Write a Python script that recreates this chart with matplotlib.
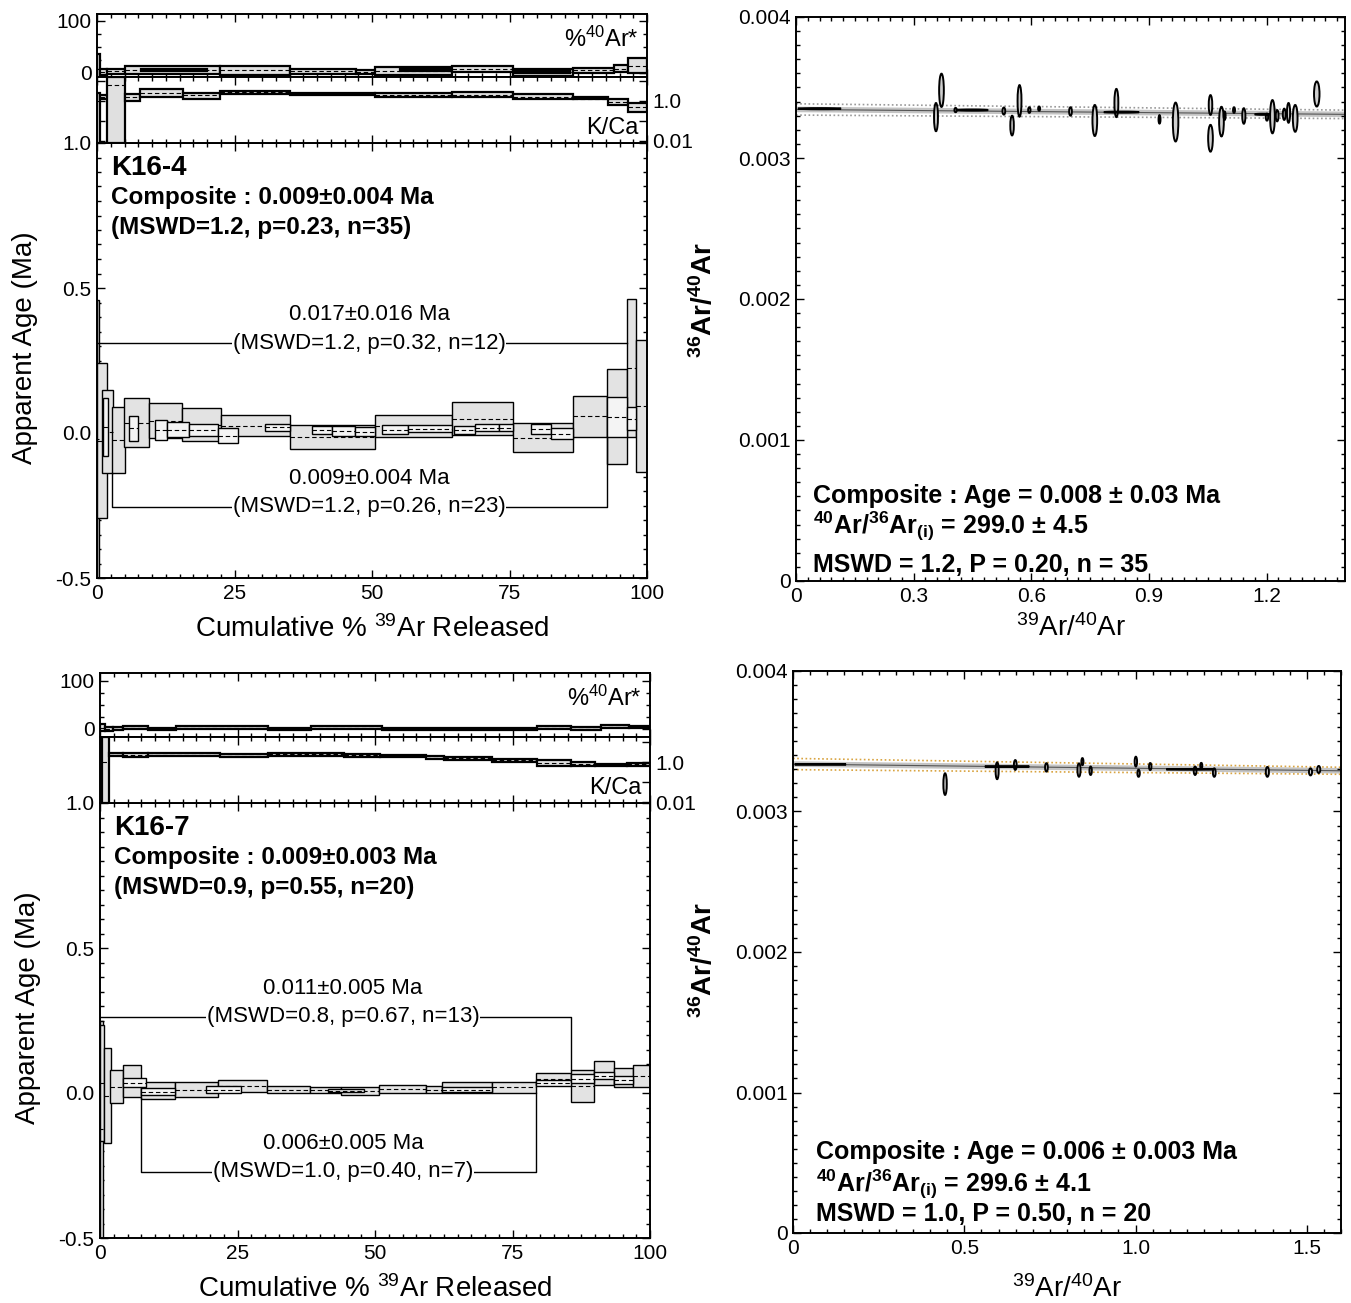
"""
Composite 40Ar/39Ar age spectra and inverse isochrons for K16-4 and K16-7
"""

import numpy as np
import matplotlib
matplotlib.use("Agg")
import matplotlib.pyplot as plt
from matplotlib.patches import Rectangle, Ellipse
from matplotlib.ticker import FixedLocator, FixedFormatter, MultipleLocator, NullFormatter, NullLocator

plt.rcParams["font.family"] = ["Liberation Sans", "DejaVu Sans"]
plt.rcParams["mathtext.default"] = "regular"

W, H = 1351, 1303

# ---------------- K16-4 ----------------
# age steps: (cum % start, cum % end, age Ma, error Ma)
K16_4_STEPS_A = [
    (0.0, 0.4, -0.02, 0.48), (0.0, 1.9, -0.027, 0.267), (0.9, 2.9, 0.005, 0.143),
    (2.7, 5.1, -0.024, 0.115), (4.9, 9.4, 0.036, 0.083), (9.4, 15.5, 0.042, 0.060),
    (15.5, 22.6, 0.028, 0.057), (22.6, 35.1, 0.025, 0.037), (35.1, 50.6, -0.014, 0.042),
    (50.6, 64.5, 0.024, 0.037), (64.5, 75.7, 0.050, 0.058), (75.7, 86.5, -0.016, 0.051),
    (86.5, 92.8, 0.057, 0.070), (92.8, 96.4, 0.056, 0.163), (96.4, 98.0, 0.224, 0.237),
    (98.0, 100.0, 0.094, 0.227),
]
K16_4_STEPS_B = [
    (1.0, 2.0, 0.02, 0.10), (5.8, 7.5, 0.016, 0.043), (10.5, 12.8, 0.010, 0.035),
    (12.8, 16.7, 0.012, 0.026), (16.7, 22.0, 0.010, 0.020), (22.0, 25.6, -0.010, 0.026),
    (30.5, 35.1, 0.020, 0.012), (39.0, 42.7, 0.010, 0.015), (42.7, 46.9, 0.008, 0.017),
    (46.9, 50.6, 0.005, 0.014), (51.8, 56.5, 0.012, 0.017), (56.5, 64.5, 0.015, 0.012),
    (64.9, 68.8, 0.010, 0.014), (68.8, 73.0, 0.018, 0.012), (73.0, 75.7, 0.018, 0.012),
    (78.9, 82.5, 0.013, 0.018), (82.5, 86.5, -0.002, 0.019), (92.8, 96.4, 0.056, 0.069),
    (96.4, 98.0, 0.05, 0.04),
]
# %40Ar*: (start, end, value, error)
K16_4_AR = [
    (0.0, 0.5, 8, 28), (0.5, 1.9, 2, 5), (1.9, 5.0, 3, 5), (5.0, 22.4, 6, 8),
    (8.0, 20.0, 6, 2), (22.4, 35.1, 5, 8), (35.1, 47.1, 3, 5), (47.1, 50.5, 2, 4),
    (50.5, 64.6, 4, 7), (55.0, 64.6, 6, 2), (64.6, 75.7, 8, 6), (75.7, 86.6, 1, 6),
    (76.0, 86.0, 2, 2), (86.6, 94.0, 5, 5), (94.0, 96.5, 8, 7), (96.5, 100.0, 14, 14),
]
# K/Ca: (start, end, value, low, high)
K16_4_KCA = [
    (0.0, 0.5, 1.0, 0.008, 2.5), (0.5, 1.9, 1.6, 1.3, 2.0), (1.9, 5.0, 6.3, 0.008, 16),
    (5.0, 7.9, 1.5, 1.05, 2.2), (7.9, 15.7, 2.5, 1.6, 3.85), (15.7, 22.4, 2.0, 1.26, 2.65),
    (22.4, 35.1, 2.7, 2.2, 3.2), (35.1, 50.5, 2.3, 2.1, 2.6), (50.5, 64.6, 2.0, 1.6, 2.6),
    (64.6, 75.7, 2.0, 1.5, 2.7), (75.7, 86.6, 1.6, 1.26, 2.2), (86.6, 92.9, 1.3, 1.2, 1.5),
    (92.9, 96.5, 0.9, 0.6, 1.26), (96.5, 100.0, 0.5, 0.28, 0.77),
]
# plateau brackets: (start, end, level, left end, right end, age text, stats text)
K16_4_BRACKETS = [
    (0.0, 96.4, 0.31, 0.31, 0.31, "0.017\u00b10.016 Ma", "(MSWD=1.2, p=0.32, n=12)"),
    (2.7, 92.8, -0.255, -0.139, -0.013, "0.009\u00b10.004 Ma", "(MSWD=1.2, p=0.26, n=23)"),
]
K16_4_LABEL = ["K16-4", "Composite : 0.009\u00b10.004 Ma", "(MSWD=1.2, p=0.23, n=35)"]

# isochron ellipses: (39Ar/40Ar, 36Ar/40Ar, width, height)
K16_4_ISO = [
    (0.371, 0.00348, 0.012, 0.000236), (0.357, 0.00329, 0.010, 0.000200),
    (0.407, 0.00334, 0.006, 0.000030), (0.530, 0.003333, 0.007, 0.000050),
    (0.551, 0.00323, 0.009, 0.000140), (0.570, 0.003405, 0.010, 0.000224),
    (0.595, 0.00334, 0.006, 0.000040), (0.620, 0.00335, 0.005, 0.000030),
    (0.700, 0.00333, 0.007, 0.000060), (0.762, 0.003266, 0.012, 0.000220),
    (0.817, 0.00339, 0.010, 0.000200), (0.927, 0.003274, 0.005, 0.000060),
    (0.968, 0.003255, 0.014, 0.000276), (1.057, 0.003376, 0.009, 0.000140),
    (1.057, 0.00314, 0.012, 0.000190), (1.085, 0.003258, 0.012, 0.000210),
    (1.093, 0.00330, 0.005, 0.000060), (1.117, 0.00334, 0.005, 0.000040),
    (1.142, 0.003298, 0.008, 0.000110), (1.201, 0.00329, 0.006, 0.000050),
    (1.215, 0.003293, 0.012, 0.000236), (1.227, 0.00330, 0.007, 0.000080),
    (1.245, 0.00331, 0.007, 0.000080), (1.256, 0.00332, 0.008, 0.000140),
    (1.273, 0.003281, 0.012, 0.000190), (1.328, 0.003454, 0.014, 0.000178),
    (0.060, 0.00335, 0.110, 0.000008), (0.450, 0.00334, 0.080, 0.000008),
    (0.830, 0.003325, 0.090, 0.000008), (1.190, 0.00331, 0.040, 0.000008),
]
K16_4_INITIAL = 299.0
K16_4_SLOPE = -2.5e-5
K16_4_ENVELOPE = (4.0e-5, 3.0e-5)
K16_4_ISO_TEXT = ["Composite : Age = 0.008 \u00b1 0.03 Ma",
                  "$^{40}$Ar/$^{36}$Ar$_{(i)}$ = 299.0 \u00b1 4.5",
                  "MSWD = 1.2, P = 0.20, n = 35"]

# ---------------- K16-7 ----------------
K16_7_STEPS_A = [
    (0.0, 0.5, -0.125, 0.375), (0.0, 0.7, 0.033, 0.20), (0.7, 2.0, -0.01, 0.164),
    (1.8, 4.2, 0.022, 0.058), (4.2, 7.5, 0.042, 0.055), (7.5, 13.6, 0.010, 0.029),
    (13.6, 21.4, 0.012, 0.027), (21.4, 30.3, 0.024, 0.020), (30.3, 38.1, 0.012, 0.012),
    (38.1, 43.9, 0.010, 0.010), (43.9, 50.7, 0.008, 0.014), (50.7, 59.2, 0.013, 0.014),
    (59.2, 62.1, 0.012, 0.013), (62.1, 71.2, 0.018, 0.019), (71.2, 79.3, 0.019, 0.020),
    (79.3, 85.7, 0.049, 0.021), (85.7, 89.8, 0.025, 0.055), (89.8, 93.5, 0.069, 0.041),
    (93.5, 96.9, 0.052, 0.033), (96.9, 100.0, 0.058, 0.038),
]
K16_7_STEPS_B = [
    (4.2, 8.3, 0.035, 0.016), (7.5, 13.6, 0.005, 0.012), (19.3, 25.6, 0.012, 0.012),
    (41.5, 48.0, 0.008, 0.006), (62.1, 71.2, 0.012, 0.010), (79.3, 85.7, 0.035, 0.010),
    (85.7, 89.8, 0.050, 0.015), (89.8, 93.5, 0.060, 0.012), (93.5, 96.9, 0.045, 0.015),
]
K16_7_AR = [
    (0.0, 0.9, 3, 8), (0.9, 2.3, 0, 4), (2.3, 4.1, 1, 3), (4.1, 8.8, 3, 2.5),
    (8.8, 13.9, 0, 2.5), (13.9, 30.6, 3, 2.5), (30.6, 38.3, 0, 2.5), (38.3, 51.2, 3, 2.5),
    (51.2, 79.5, 0, 2.5), (79.5, 85.7, 3, 2.5), (85.7, 91.1, 1, 2.5), (91.1, 96.2, 5, 2.5),
    (96.2, 100.0, 4, 2.5),
]
K16_7_KCA = [
    (0.0, 0.4, 1.0, 0.0089, 17), (0.4, 1.6, 1.0, 0.0089, 17), (1.6, 4.2, 2.3, 2.0, 2.7),
    (4.2, 8.8, 2.2, 1.84, 2.7), (8.8, 21.9, 2.3, 2.0, 2.7), (21.9, 30.6, 2.0, 1.84, 2.5),
    (30.6, 44.3, 2.4, 2.1, 2.7), (44.3, 50.9, 2.2, 1.84, 2.5), (50.9, 59.2, 2.0, 1.7, 2.3),
    (59.2, 62.5, 1.6, 1.4, 1.9), (62.5, 71.2, 1.5, 1.3, 1.8), (71.2, 79.5, 1.2, 1.05, 1.4),
    (79.5, 85.7, 0.9, 0.63, 1.2), (85.7, 90.0, 0.8, 0.6, 1.0), (90.0, 95.8, 0.7, 0.6, 0.8),
    (95.8, 100.0, 0.75, 0.63, 0.9),
]
K16_7_BRACKETS = [
    (0.0, 85.7, 0.263, 0.263, 0.08, "0.011\u00b10.005 Ma", "(MSWD=0.8, p=0.67, n=13)"),
    (7.5, 79.3, -0.271, -0.018, -0.001, "0.006\u00b10.005 Ma", "(MSWD=1.0, p=0.40, n=7)"),
]
K16_7_LABEL = ["K16-7", "Composite : 0.009\u00b10.003 Ma", "(MSWD=0.9, p=0.55, n=20)"]

K16_7_ISO = [
    (0.444, 0.003195, 0.010, 0.000154), (0.596, 0.00329, 0.009, 0.000120),
    (0.649, 0.003331, 0.008, 0.000070), (0.740, 0.003314, 0.008, 0.000060),
    (0.835, 0.003295, 0.009, 0.000095), (0.845, 0.003355, 0.006, 0.000050),
    (0.869, 0.00329, 0.007, 0.000060), (1.001, 0.003355, 0.007, 0.000070),
    (1.009, 0.003272, 0.007, 0.000050), (1.043, 0.00332, 0.007, 0.000050),
    (1.174, 0.00329, 0.008, 0.000060), (1.192, 0.003326, 0.006, 0.000040),
    (1.230, 0.003277, 0.008, 0.000060), (1.385, 0.003282, 0.009, 0.000070),
    (1.511, 0.003282, 0.009, 0.000050), (1.535, 0.003299, 0.009, 0.000050),
    (0.080, 0.003335, 0.150, 0.000006), (0.625, 0.00332, 0.130, 0.000006),
    (1.160, 0.00330, 0.140, 0.000006),
]
K16_7_INITIAL = 299.6
K16_7_SLOPE = -3.0e-5
K16_7_ENVELOPE = (4.0e-5, 2.5e-5)
K16_7_ISO_TEXT = ["Composite : Age = 0.006 \u00b1 0.003 Ma",
                  "$^{40}$Ar/$^{36}$Ar$_{(i)}$ = 299.6 \u00b1 4.1",
                  "MSWD = 1.0, P = 0.50, n = 20"]


fig = plt.figure(figsize=(W / 100, H / 100), dpi=100)


def px_axes(left, top, right, bottom):
    return fig.add_axes([left / W, 1 - bottom / H, (right - left) / W, (bottom - top) / H])


def style(ax):
    ax.tick_params(which="both", direction="in", top=True, right=True, width=1.0, labelsize=15)
    ax.tick_params(which="major", length=6, pad=4)
    ax.tick_params(which="minor", length=3)
    for s in ax.spines.values():
        s.set_linewidth(1.4)


def draw_boxes(ax, steps, fc, lw, z):
    for x0, x1, val, err in steps:
        ax.add_patch(Rectangle((x0, val - err), x1 - x0, 2 * err, facecolor=fc,
                               edgecolor="black", lw=lw, zorder=z))
        ax.plot([x0, x1], [val, val], color="black", lw=0.8, ls=(0, (4, 2.5)), zorder=z + 0.1)


def spectrum(box, ar_bottom, ar_zero, kca_one, steps_a, steps_b, ar, kca, brackets, label, text_x):
    left, top, right, bottom = box
    # main age axes
    ax = px_axes(left, kca_one[1], right, bottom)
    ax.set_xlim(0, 100)
    ax.set_ylim(-0.5, 1.0)
    draw_boxes(ax, steps_a, "#e3e3e3", 1.0, 2)
    draw_boxes(ax, steps_b, "#f4f4f4", 1.0, 3)
    for x0, x1, lev, e0, e1, t1, t2 in brackets:
        ax.plot([x0, x0, x1, x1], [e0, lev, lev, e1], color="black", lw=1.0, zorder=4)
        ax.text(text_x, lev + 0.097, t1, ha="center", va="center", fontsize=16, zorder=5)
        ax.text(text_x, lev, t2, ha="center", va="center", fontsize=16, zorder=5,
                bbox=dict(facecolor="white", edgecolor="none", pad=0.5))
    ax.text(0.025, 0.943, label[0], transform=ax.transAxes, fontsize=20, fontweight="bold",
            ha="left", va="center")
    ax.text(0.025, 0.874, label[1], transform=ax.transAxes, fontsize=17.5, fontweight="bold",
            ha="left", va="center")
    ax.text(0.025, 0.805, label[2], transform=ax.transAxes, fontsize=17.5, fontweight="bold",
            ha="left", va="center")
    style(ax)
    ax.xaxis.set_major_locator(FixedLocator([0, 25, 50, 75, 100]))
    ax.xaxis.set_minor_locator(MultipleLocator(2.5))
    ax.yaxis.set_major_locator(FixedLocator([-0.5, 0.0, 0.5, 1.0]))
    ax.yaxis.set_major_formatter(FixedFormatter(["-0.5", "0.0", "0.5", "1.0"]))
    ax.yaxis.set_minor_locator(MultipleLocator(0.05))
    ax.text(0.5, -0.117, "Cumulative % $^{39}$Ar Released", transform=ax.transAxes,
            fontsize=20, ha="center", va="center")
    ax.text(-0.131, 0.53, "Apparent Age (Ma)", transform=ax.transAxes, fontsize=20,
            rotation=90, ha="center", va="center")

    # %40Ar* panel (100 and 0 tick pixel rows given by ar_zero)
    p100, p0 = ar_zero
    ppu = (p0 - p100) / 100.0
    ax_ar = px_axes(left, top, right, ar_bottom)
    ax_ar.set_xlim(0, 100)
    ax_ar.set_ylim(-(ar_bottom - p0) / ppu, 100 + (p100 - top) / ppu)
    draw_boxes(ax_ar, ar, "#e0e0e0", 1.6, 2)
    style(ax_ar)
    ax_ar.xaxis.set_minor_locator(MultipleLocator(2.5))
    ax_ar.xaxis.set_major_locator(MultipleLocator(25))
    ax_ar.xaxis.set_major_formatter(NullFormatter())
    ax_ar.yaxis.set_major_locator(FixedLocator([0, 100]))
    ax_ar.yaxis.set_minor_locator(MultipleLocator(25))
    ax_ar.text(0.985, 0.60, "%$^{40}$Ar*", transform=ax_ar.transAxes, fontsize=17,
               ha="right", va="center")

    # K/Ca panel, log scale (1.0 at kca_one[0], 0.01 at kca_one[0] + 40 px)
    p1, kbottom = kca_one[0], kca_one[1]
    ax_k = px_axes(left, ar_bottom, right, kbottom)
    ax_k.set_yscale("log")
    ax_k.set_xlim(0, 100)
    ax_k.set_ylim(10 ** (-2 - (kbottom - p1 - 40) / 20.0), 10 ** ((p1 - ar_bottom) / 20.0))
    for x0, x1, val, lo, hi in kca:
        ax_k.add_patch(Rectangle((x0, lo), x1 - x0, hi - lo, facecolor="#e0e0e0",
                                 edgecolor="black", lw=1.6, zorder=2))
        ax_k.plot([x0, x1], [val, val], color="black", lw=0.8, ls=(0, (4, 2.5)), zorder=2.1)
    style(ax_k)
    ax_k.tick_params(labelleft=False, labelright=True, labelbottom=False)
    ax_k.yaxis.set_major_locator(FixedLocator([0.01, 0.1, 1.0, 10.0]))
    ax_k.yaxis.set_major_formatter(FixedFormatter(["0.01", "", "1.0", ""]))
    ax_k.yaxis.set_minor_locator(NullLocator())
    ax_k.xaxis.set_major_locator(MultipleLocator(25))
    ax_k.xaxis.set_minor_locator(MultipleLocator(2.5))
    ax_k.text(0.985, 0.23, "K/Ca", transform=ax_k.transAxes, fontsize=17,
              ha="right", va="center")
    return ax


def isochron(box, xmax, xticks, xlabels, ells, initial, slope, env, env_color, texts, tx, ty, lab_pos):
    ax = px_axes(*box)
    ax.set_xlim(0, xmax)
    ax.set_ylim(0, 0.004)
    x = np.linspace(0, xmax, 100)
    y = 1.0 / initial + slope * x
    half = env[0] + (env[1] - env[0]) * x / xmax
    ax.plot(x, y, color="#c4c4c4", lw=4, zorder=1)
    ax.plot(x, y, color="#555555", lw=0.8, zorder=1.2)
    ax.plot(x, y + half, color=env_color, lw=1.2, ls=(0, (1, 1.5)), zorder=1.1)
    ax.plot(x, y - half, color=env_color, lw=1.2, ls=(0, (1, 1.5)), zorder=1.1)
    for ex, ey, ew, eh in ells:
        ax.add_patch(Ellipse((ex, ey), ew, eh, facecolor="#cfcfcf", edgecolor="black",
                             lw=1.4, zorder=3))
    style(ax)
    ax.xaxis.set_major_locator(FixedLocator(xticks))
    ax.xaxis.set_major_formatter(FixedFormatter(xlabels))
    ax.xaxis.set_minor_locator(MultipleLocator(0.03 if xmax < 1.5 else 0.05))
    ax.yaxis.set_major_locator(FixedLocator([0, 0.001, 0.002, 0.003, 0.004]))
    ax.yaxis.set_major_formatter(FixedFormatter(["0", "0.001", "0.002", "0.003", "0.004"]))
    ax.yaxis.set_minor_locator(MultipleLocator(0.0001))
    for t, yy in zip(texts, ty):
        ax.text(tx, yy, t, transform=ax.transAxes, fontsize=18, fontweight="bold",
                ha="left", va="center")
    ax.text(0.5, lab_pos[0], "$^{39}$Ar/$^{40}$Ar", transform=ax.transAxes, fontsize=20,
            ha="center", va="center")
    ax.text(lab_pos[1], lab_pos[2], "$^{36}$Ar/$^{40}$Ar", transform=ax.transAxes, fontsize=20,
            fontweight="bold", rotation=90, ha="center", va="center")
    return ax


spectrum((97, 14, 647, 578), 77, (21, 73), (101, 143),
         K16_4_STEPS_A, K16_4_STEPS_B, K16_4_AR, K16_4_KCA, K16_4_BRACKETS, K16_4_LABEL, 49.5)
spectrum((100, 673, 650, 1238), 737, (681, 729), (762, 803),
         K16_7_STEPS_A, K16_7_STEPS_B, K16_7_AR, K16_7_KCA, K16_7_BRACKETS, K16_7_LABEL, 44.2)

isochron((796, 17, 1345, 581), 1.4, [0, 0.3, 0.6, 0.9, 1.2], ["0", "0.3", "0.6", "0.9", "1.2"],
         K16_4_ISO, K16_4_INITIAL, K16_4_SLOPE, K16_4_ENVELOPE, "#9a9a9a",
         K16_4_ISO_TEXT, 0.031, [0.151, 0.096, 0.028], (-0.083, -0.169, 0.498))
isochron((793, 671, 1341, 1233), 1.6, [0, 0.5, 1.0, 1.5], ["0", "0.5", "1.0", "1.5"],
         K16_7_ISO, K16_7_INITIAL, K16_7_SLOPE, K16_7_ENVELOPE, "#d9a441",
         K16_7_ISO_TEXT, 0.042, [0.144, 0.087, 0.034], (-0.1, -0.164, 0.486))

fig.savefig("out.png", dpi=100)
